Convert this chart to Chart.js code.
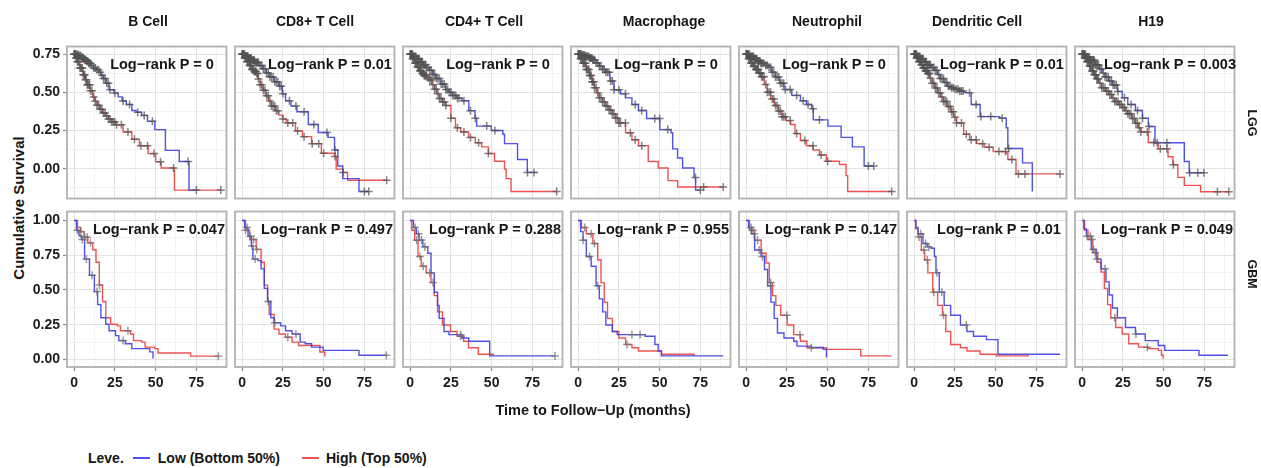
<!DOCTYPE html>
<html>
<head>
<meta charset="utf-8">
<script src="https://cdn.jsdelivr.net/npm/chart.js@4.4.1/dist/chart.umd.min.js"></script>
<style>
  html, body { margin: 0; padding: 0; background: #fff; }
  #figure {
    position: relative; width: 1261px; height: 468px; overflow: hidden;
    font-family: "Liberation Sans", Arial, sans-serif; font-weight: bold; color: #161616;
  }
  .lbl { position: absolute; white-space: nowrap; line-height: 1; }
  .legend { position: absolute; display: flex; align-items: center; font-size: 14px; line-height: 1; }
  .swatch { display: inline-block; width: 17px; height: 2px; }
</style>
</head>
<body>
<div id="figure"></div>
<script>
// ---- data ----
const cellTypes = ['B Cell', 'CD8+ T Cell', 'CD4+ T Cell', 'Macrophage', 'Neutrophil', 'Dendritic Cell', 'H19'];
const cohorts = ['LGG', 'GBM'];
const groupLabels = ['Low (Bottom 50%)', 'High (Top 50%)'];
const pLgg = ['0', '0.01', '0', '0', '0', '0.01', '0.003'];
const pGbm = ['0.047', '0.497', '0.288', '0.955', '0.147', '0.01', '0.049'];

const xTicks = [0, 25, 50, 75];
const xMinor = [12.5, 37.5, 62.5, 87.5];
const yTicksLgg = [0, 0.25, 0.5, 0.75];
const yMinorLgg = [-0.125, 0.125, 0.375, 0.625];
const yTicksGbm = [0, 0.25, 0.5, 0.75, 1];
const yMinorGbm = [0.125, 0.375, 0.625, 0.875];

// survival curves [months, survival], one per column
const lggLow = [
  [[0,0.75],[1.5,0.746],[3,0.74],[4.5,0.728],[6,0.715],[7.5,0.703],[9,0.69],[10.5,0.675],[12,0.66],[13.5,0.647],[15.4,0.631],[16.5,0.612],[18,0.59],[19.5,0.56],[21.4,0.517],[24.4,0.495],[27,0.47],[29.4,0.443],[32,0.42],[35.4,0.381],[38,0.37],[41.4,0.349],[45,0.31],[49.5,0.256],[56,0.12],[64.5,0.047],[70.5,-0.14],[75,-0.14]],
  [[0,0.75],[2,0.738],[4,0.725],[6,0.71],[8,0.695],[10.3,0.675],[12.6,0.654],[14.8,0.627],[17,0.6],[19.8,0.57],[22.6,0.54],[24.6,0.49],[26.6,0.445],[30,0.41],[33.6,0.373],[40.6,0.289],[46.7,0.237],[52.7,0.205],[56.7,0.122],[58.7,0.018],[61.7,-0.065],[71.7,-0.149],[77.7,-0.149]],
  [[0,0.75],[2,0.735],[4,0.72],[6,0.7],[8,0.68],[9.9,0.662],[11.8,0.644],[13.9,0.617],[16,0.59],[18.9,0.554],[21.8,0.518],[23.9,0.5],[26,0.48],[28.9,0.462],[31.8,0.445],[36,0.38],[39.8,0.331],[40.8,0.279],[49.8,0.25],[56.9,0.226],[57.9,0.164],[65.9,0.06],[71.9,-0.024],[77.9,-0.024]],
  [[0,0.75],[2.2,0.743],[4.5,0.735],[6.7,0.725],[9,0.714],[11,0.692],[13,0.67],[15,0.65],[17,0.631],[19.5,0.574],[22,0.517],[26,0.49],[29.1,0.464],[33,0.42],[37,0.381],[42,0.329],[50.1,0.256],[57,0.235],[58,0.13],[61,0.07],[64.1,0.005],[71.1,-0.057],[72.1,-0.14],[75,-0.14]],
  [[0,0.75],[2.5,0.735],[5,0.72],[7,0.705],[9,0.69],[11.1,0.677],[13.2,0.664],[15.6,0.632],[18,0.6],[20.6,0.559],[23.2,0.518],[28,0.48],[33.3,0.445],[37,0.42],[40.2,0.393],[41.2,0.32],[50.2,0.279],[58.3,0.205],[65.2,0.143],[72.4,0.018],[78.3,0.018]],
  [[0,0.75],[2,0.735],[4,0.72],[6,0.7],[8,0.68],[10.2,0.662],[12.4,0.644],[14.2,0.617],[16,0.59],[18.2,0.565],[20.4,0.539],[22.7,0.53],[25,0.52],[27.7,0.509],[30.4,0.498],[35,0.42],[40.5,0.341],[52.5,0.331],[56.5,0.268],[57.5,0.132],[66.5,0.038],[72.5,-0.149]],
  [[0,0.75],[2.5,0.73],[5,0.71],[7.8,0.681],[10.6,0.652],[12.3,0.626],[14,0.6],[16.3,0.574],[18.6,0.548],[21.6,0.506],[24.6,0.464],[28,0.42],[32.7,0.381],[37,0.33],[40.6,0.276],[44.7,0.17],[62.7,0.047],[65.7,-0.026],[74.7,-0.026]]
];
const lggHigh = [
  [[0,0.75],[1,0.725],[2,0.7],[3.5,0.66],[5.4,0.615],[6.7,0.582],[8,0.55],[9.7,0.51],[11.4,0.47],[12.7,0.442],[14,0.415],[15.7,0.39],[17.4,0.365],[19.2,0.345],[21,0.325],[23,0.305],[25.4,0.287],[30,0.24],[35.4,0.193],[40,0.15],[45.4,0.099],[50,0.045],[53.4,0.005],[61.5,-0.14],[90,-0.14]],
  [[0,0.75],[1.5,0.725],[3,0.7],[4.5,0.675],[6,0.65],[7.3,0.637],[8.6,0.623],[9.8,0.587],[11,0.55],[12.8,0.513],[14.6,0.477],[16.3,0.443],[18,0.41],[20.3,0.38],[22.6,0.351],[24.8,0.325],[27,0.3],[32.7,0.247],[37,0.21],[42.6,0.164],[48.6,0.101],[56.7,0.08],[57.7,-0.003],[61.7,-0.024],[64.7,-0.076],[88.7,-0.076]],
  [[0,0.75],[1.5,0.72],[3,0.69],[4.5,0.665],[6,0.64],[7.2,0.625],[8.5,0.61],[10.1,0.595],[11.8,0.581],[13.4,0.55],[15,0.52],[16.5,0.49],[18,0.46],[19.9,0.437],[21.8,0.414],[25,0.33],[27.8,0.268],[31,0.24],[35.8,0.205],[40,0.17],[43.8,0.143],[48,0.1],[51.8,0.049],[57.9,-0.003],[58.9,-0.065],[61.9,-0.149],[89.9,-0.149]],
  [[0,0.75],[1.5,0.72],[3,0.69],[5,0.65],[7,0.61],[8.5,0.57],[10,0.53],[11.5,0.497],[13,0.464],[15,0.437],[17,0.41],[19,0.385],[21,0.36],[23,0.33],[25,0.3],[29.1,0.235],[33,0.19],[37,0.151],[43,0.047],[49.1,0.005],[55.1,-0.078],[61.1,-0.12],[89.1,-0.12]],
  [[0,0.75],[1.5,0.72],[3,0.69],[4.5,0.67],[6,0.65],[7.6,0.626],[9.2,0.602],[11.1,0.551],[13,0.5],[15.1,0.457],[17.2,0.414],[19.6,0.377],[22,0.34],[24.6,0.315],[27.3,0.289],[30,0.23],[33.3,0.185],[37,0.15],[41.2,0.122],[45,0.09],[49.2,0.049],[57.3,0.028],[61.3,-0.045],[62.3,-0.149],[89.3,-0.149]],
  [[0,0.75],[1.5,0.725],[3,0.7],[4.2,0.68],[5.5,0.66],[7,0.642],[8.4,0.623],[9.7,0.592],[11,0.56],[12.7,0.529],[14.4,0.498],[16.2,0.469],[18,0.44],[20.2,0.407],[22.4,0.373],[24.2,0.337],[26,0.3],[30.4,0.226],[34,0.19],[38.4,0.164],[43,0.14],[48.5,0.112],[56.5,0.101],[57.5,0.06],[62.5,-0.034],[89.5,-0.034]],
  [[0,0.75],[1.5,0.725],[3,0.7],[4.5,0.67],[6,0.64],[7.3,0.615],[8.6,0.589],[10.3,0.56],[12,0.53],[14.3,0.507],[16.6,0.485],[18.3,0.462],[20,0.44],[22.3,0.42],[24.6,0.401],[26.3,0.38],[28,0.36],[30.4,0.328],[32.7,0.297],[34.3,0.268],[36,0.24],[40.6,0.172],[46.7,0.13],[52.7,0.078],[55.7,0.026],[58.7,-0.057],[62.7,-0.109],[72.7,-0.151],[90,-0.151]]
];
const gbmLow = [
  [[0,1],[1.4,0.93],[3,0.89],[4.4,0.863],[6.4,0.722],[9.4,0.605],[12.4,0.488],[14.4,0.394],[16.4,0.3],[19.4,0.253],[21.4,0.206],[25.4,0.171],[27.4,0.135],[31.4,0.112],[35.4,0.077],[46.4,0.054],[48.4,0.007]],
  [[0,1],[1.5,0.95],[3.6,0.887],[5.6,0.816],[6.6,0.722],[9.6,0.711],[11.6,0.652],[13.6,0.511],[15.6,0.417],[17.6,0.3],[19.6,0.264],[23.6,0.241],[26.6,0.206],[30.6,0.183],[35.6,0.124],[38.7,0.112],[42.6,0.088],[49.7,0.065],[71.7,0.03],[88.5,0.03]],
  [[0,1],[2,0.95],[3.8,0.905],[5.5,0.86],[7.8,0.811],[10.8,0.764],[12.8,0.623],[14.8,0.483],[16.8,0.389],[17.8,0.295],[20.8,0.201],[23.8,0.178],[31.8,0.154],[36,0.13],[48.8,0.025],[88.9,0.025]],
  [[0,1],[1.5,0.92],[3,0.858],[5,0.741],[8,0.671],[11,0.53],[13,0.436],[15,0.342],[17,0.248],[21,0.201],[24,0.178],[41.1,0.166],[47.1,0.107],[49.1,0.06],[51.1,0.025],[89,0.025]],
  [[0,1],[1.5,0.95],[3.2,0.905],[5.2,0.788],[9.2,0.741],[11.2,0.647],[13.2,0.53],[15.2,0.412],[17.2,0.295],[19.2,0.19],[23.2,0.154],[29.2,0.131],[31.2,0.095],[40,0.085],[47.3,0.072],[49.3,0.013]],
  [[0,1],[1,0.95],[2.4,0.905],[5.4,0.835],[8,0.81],[10.4,0.8],[12.4,0.741],[13.4,0.623],[15.4,0.483],[18.4,0.389],[22.4,0.318],[28.4,0.248],[32.4,0.201],[36.4,0.166],[44.4,0.142],[51.4,0.037],[89.5,0.037]],
  [[0,1],[1,0.94],[2.6,0.887],[5.6,0.792],[8.6,0.722],[11.6,0.652],[14.6,0.558],[16.6,0.464],[18.6,0.37],[21.6,0.3],[26.6,0.229],[32.7,0.183],[38.7,0.135],[46.7,0.1],[50.7,0.065],[71.7,0.03],[89.5,0.03]]
];
const gbmHigh = [
  [[0,1],[2,0.95],[4,0.92],[6,0.88],[8.4,0.84],[11.4,0.79],[13.4,0.7],[15.4,0.535],[17.4,0.417],[19.4,0.3],[22.4,0.253],[26.4,0.241],[28.4,0.206],[34.5,0.183],[36.4,0.135],[41.4,0.124],[43.5,0.088],[49.5,0.077],[51.5,0.046],[71.5,0.023],[88.5,0.023]],
  [[0,1],[2,0.93],[4.6,0.863],[8.6,0.792],[11.6,0.699],[13.6,0.535],[15.6,0.417],[16.6,0.323],[19.6,0.218],[22.6,0.183],[26.6,0.159],[30.6,0.124],[34.6,0.1],[47.7,0.053],[50.7,0.018]],
  [[0,1],[1,0.93],[2.8,0.858],[4.8,0.741],[6.8,0.671],[9.8,0.623],[12.8,0.553],[14.8,0.459],[16.8,0.342],[19.8,0.248],[24.8,0.201],[28.8,0.166],[32.8,0.131],[35.8,0.084],[41.8,0.037],[50.9,0.025]],
  [[0,1],[2,0.95],[5,0.905],[9,0.835],[12,0.718],[14,0.553],[16,0.412],[18,0.295],[21,0.201],[25,0.154],[29.1,0.107],[33,0.084],[37,0.06],[51.1,0.037],[71.1,0.025]],
  [[0,1],[2,0.93],[5.2,0.858],[9.2,0.764],[12.2,0.694],[14.2,0.553],[16.2,0.459],[18.2,0.389],[21.2,0.318],[25.2,0.248],[29.2,0.178],[33.3,0.131],[37.3,0.084],[49.3,0.072],[70.3,0.025],[89.3,0.025]],
  [[0,1],[1,0.94],[2.4,0.882],[4.4,0.788],[6.4,0.718],[8.4,0.623],[11.4,0.483],[14.4,0.389],[17.4,0.318],[19.4,0.201],[22.4,0.107],[28.4,0.084],[32.4,0.06],[40.5,0.037],[50.4,0.025],[70.5,0.025]],
  [[0,1],[1.5,0.93],[3.6,0.863],[6.6,0.769],[9.6,0.699],[11.6,0.628],[13.6,0.511],[15.6,0.394],[17.6,0.3],[20.6,0.229],[24.6,0.183],[28.6,0.112],[34.6,0.088],[40.6,0.077],[46.7,0.065],[48.7,0.03],[49.7,0.007]]
];

// censoring times (months), drawn as "+" on their curve
const lggLowCensor = [
  [0,0.5,1,1.5,2,2.5,3,3.5,4,4.5,5,5.5,6,6.5,7,7.5,8,8.5,9,9.5,10,11,12,13,14,15,16,17,18,19,20,21,22,25,30,34,39,43,48,70,75],
  [0,0.5,1,1.5,2,2.5,3,3.5,4,4.5,5,5.5,6,6.5,7,7.5,8,8.5,9,9.5,10,11,12,13,14,15,16,17,18,19,20,21,22,23,24,25,29,33,38,44,52,57,75,77.7],
  [0,0.5,1,1.5,2,2.5,3,3.5,4,4.5,5,5.5,6,6.5,7,7.5,8,8.5,9,9.5,10,11,12,13,14,15,16,17,18,19,20,21,22,23,24,25,26,27,28,29,30,33,37,40,47,52,72,76],
  [0,0.5,1,1.5,2,2.5,3,3.5,4,4.5,5,5.5,6,6.5,7,7.5,8,8.5,9,9.5,10,11,12,13,14,15,16,17,18,19,20,21,22,25,29,35,39,47,50,55,72,75],
  [0,0.5,1,1.5,2,2.5,3,3.5,4,4.5,5,5.5,6,6.5,7,7.5,8,8.5,9,9.5,10,11,12,13,14,15,16,17,18,19,20,21,22,23,24,27,31,35,38,41,45,75,78.3],
  [0,0.5,1,1.5,2,2.5,3,3.5,4,4.5,5,5.5,6,6.5,7,7.5,8,8.5,9,9.5,10,11,12,13,14,15,16,17,18,19,20,21,22,23,24,25,26,27,28,29,30,34,38,41,47,54,58],
  [0,0.5,1,1.5,2,2.5,3,3.5,4,4.5,5,5.5,6,6.5,7,7.5,8,8.5,9,9.5,10,11,12,13,14,15,16,17,18,19,20,21,22,26,30,34,37,41,46,52,66,71,74.7]
];
const lggHighCensor = [
  [0,0.5,1,1.5,2,2.5,3,3.5,4,4.5,5,5.5,6,6.5,7,7.5,8,8.5,9,9.5,10,11,12,13,14,15,16,17,18,19,20,21,22,23,24,25,26,29,33,37,41,45,49,53,61,90],
  [0,0.5,1,1.5,2,2.5,3,3.5,4,4.5,5,5.5,6,6.5,7,7.5,8,8.5,9,9.5,10,11,12,13,14,15,16,17,18,19,20,21,22,25,28,31,34,38,43,47,50,57,62,88.7],
  [0,0.5,1,1.5,2,2.5,3,3.5,4,4.5,5,5.5,6,6.5,7,7.5,8,8.5,9,9.5,10,11,12,13,14,15,16,17,18,19,20,21,22,25,29,33,37,42,48,89.9],
  [0,0.5,1,1.5,2,2.5,3,3.5,4,4.5,5,5.5,6,6.5,7,7.5,8,8.5,9,9.5,10,11,12,13,14,15,16,17,18,19,20,21,22,23,24,25,26,29,32,35,39,77,89],
  [0,0.5,1,1.5,2,2.5,3,3.5,4,4.5,5,5.5,6,6.5,7,7.5,8,8.5,9,9.5,10,11,12,13,14,15,16,17,18,19,20,21,22,23,24,27,31,36,41,46,50,89.3],
  [0,0.5,1,1.5,2,2.5,3,3.5,4,4.5,5,5.5,6,6.5,7,7.5,8,8.5,9,9.5,10,11,12,13,14,15,16,17,18,19,20,21,22,23,24,25,26,29,32,35,38,42,46,52,56,60,64,68,89.5],
  [0,0.5,1,1.5,2,2.5,3,3.5,4,4.5,5,5.5,6,6.5,7,7.5,8,8.5,9,9.5,10,11,12,13,14,15,16,17,18,19,20,21,22,23,24,25,26,27,28,29,30,31,32,33,34,35,36,40,44,48,52,56,83,90]
];
const gbmLowCensor = [
  [2,5,7.5,11,14,30],
  [3,5,6,8,20,33,88.5],
  [3,5,7,9,31,88.9],
  [3,7,12,33,38],
  [3,5,8,10,15],
  [4,7,9,14,17,32],
  [3,5,7,9,14,33]
];
const gbmHighCensor = [
  [4,6.5,8,10,15.5,33,88.5],
  [2,7,9,16,28],
  [4,6,8,12,14,31],
  [4,8,10,30],
  [4,7,15,25,33,40],
  [3,6,8,12,18],
  [6,8,20,40]
];

// ---- layout ----
const PANEL_W = 163, PANEL_H = 159;
const COL_X0 = 67, COL_STEP = 168;
const ROW_Y = [43, 208];
const X_RANGE = [-4.4, 93.5];
const Y_RANGE = [[-0.195, 0.8], [-0.055, 1.065]];
const AXIS_W = 40, AXIS_H = 30, PAD = 2;
const TITLE_X = [148, 315, 484, 664, 827, 977, 1151];

const BLUE = 'rgba(62,62,228,0.9)';
const RED = 'rgba(236,64,64,0.9)';
const GRAY_LGG = 'rgba(82,82,82,0.72)';
const GRAY_GBM = 'rgba(110,110,110,0.7)';
const FONT = { family: "'Liberation Sans', Arial, sans-serif", size: 14, weight: 'bold' };

const fig = document.getElementById('figure');

function addLabel(text, x, y, size, rotate) {
  const d = document.createElement('div');
  d.className = 'lbl';
  d.textContent = text;
  d.style.left = x + 'px';
  d.style.top = y + 'px';
  d.style.fontSize = size + 'px';
  d.style.transform = 'translate(-50%,-50%)' + (rotate ? ' rotate(' + rotate + 'deg)' : '');
  fig.appendChild(d);
}

// value of a step curve at time t
function survAt(curve, t) {
  let s = curve[0][1];
  for (const [x, y] of curve) {
    if (x <= t) s = y; else break;
  }
  return s;
}

const frame = {
  id: 'frame',
  afterDatasetsDraw(chart) {
    const { ctx, chartArea: a } = chart;
    ctx.save();
    ctx.strokeStyle = '#b7b7b7';
    ctx.lineWidth = 2;
    ctx.strokeRect(a.left, a.top, a.right - a.left, a.bottom - a.top);
    ctx.restore();
  }
};

function curveSet(curve, color) {
  return {
    data: curve.map(([x, y]) => ({ x, y })),
    stepped: true,
    borderColor: color,
    borderWidth: 1.4,
    pointRadius: 0,
    fill: false,
    order: 1
  };
}

function censorSet(curve, times, gray) {
  return {
    data: times.map(t => ({ x: t, y: survAt(curve, t) })),
    showLine: false,
    pointStyle: 'cross',
    pointRadius: 4,
    pointBorderWidth: 1.5,
    pointBorderColor: gray,
    pointBackgroundColor: gray,
    order: 0
  };
}

function buildPanel(row, col) {
  const L = COL_X0 + COL_STEP * col, T = ROW_Y[row];
  const showY = col === 0, showX = row === 1;
  const low = row ? gbmLow[col] : lggLow[col];
  const high = row ? gbmHigh[col] : lggHigh[col];
  const lowC = row ? gbmLowCensor[col] : lggLowCensor[col];
  const highC = row ? gbmHighCensor[col] : lggHighCensor[col];
  const yMajor = row ? yTicksGbm : yTicksLgg;
  const yMinor = row ? yMinorGbm : yMinorLgg;
  const gray = row ? GRAY_GBM : GRAY_LGG;

  const canvas = document.createElement('canvas');
  const w = AXIS_W + PANEL_W + PAD;
  const h = PAD + PANEL_H + (showX ? AXIS_H : PAD);
  canvas.width = w;
  canvas.height = h;
  canvas.style.cssText = 'position:absolute;left:' + (L - AXIS_W) + 'px;top:' + (T - PAD) + 'px;width:' + w + 'px;height:' + h + 'px';
  fig.appendChild(canvas);

  const gridFor = (major, drawTicks) => ({
    color: c => major.includes(c.tick && c.tick.value) ? '#e2e2e2' : '#efefef',
    lineWidth: c => major.includes(c.tick && c.tick.value) ? 1 : 0.8,
    drawTicks: drawTicks,
    tickLength: 4,
    tickWidth: 1.2,
    tickColor: c => major.includes(c.tick && c.tick.value) ? '#8c8c8c' : 'rgba(0,0,0,0)'
  });

  new Chart(canvas, {
    type: 'line',
    data: {
      datasets: [
        censorSet(low, lowC, gray),
        censorSet(high, highC, gray),
        curveSet(low, BLUE),
        curveSet(high, RED)
      ]
    },
    options: {
      responsive: false,
      animation: false,
      layout: { padding: { top: PAD, right: PAD, left: 0, bottom: showX ? 0 : PAD } },
      plugins: { legend: { display: false }, tooltip: { enabled: false } },
      scales: {
        x: {
          type: 'linear',
          min: X_RANGE[0],
          max: X_RANGE[1],
          afterBuildTicks: s => { s.ticks = xTicks.concat(xMinor).sort((a, b) => a - b).map(v => ({ value: v })); },
          afterFit: s => { s.height = showX ? AXIS_H : 0; s.paddingLeft = 0; s.paddingRight = 0; },
          ticks: {
            display: showX, autoSkip: false, maxRotation: 0, padding: 4,
            font: FONT, color: '#1c1c1c',
            callback: v => xTicks.includes(v) ? String(v) : ''
          },
          grid: gridFor(xTicks, showX),
          border: { display: false }
        },
        y: {
          type: 'linear',
          min: Y_RANGE[row][0],
          max: Y_RANGE[row][1],
          afterBuildTicks: s => { s.ticks = yMajor.concat(yMinor).sort((a, b) => a - b).map(v => ({ value: v })); },
          afterFit: s => { s.width = AXIS_W; s.paddingTop = 0; s.paddingBottom = 0; },
          ticks: {
            display: showY, autoSkip: false, padding: 3,
            font: FONT, color: '#1c1c1c',
            callback: v => yMajor.includes(v) ? v.toFixed(2) : ''
          },
          grid: gridFor(yMajor, showY),
          border: { display: false }
        }
      }
    },
    plugins: [frame]
  });

  const p = row ? pGbm[col] : pLgg[col];
  addLabel('Log\u2212rank P = ' + p, L + (row ? 92 : 95), T + 21, 14.5);
}

for (let r = 0; r < cohorts.length; r++) {
  for (let c = 0; c < cellTypes.length; c++) buildPanel(r, c);
}

// column titles, strip labels and axis titles
cellTypes.forEach((name, i) => addLabel(name, TITLE_X[i], 21, 14));
addLabel(cohorts[0], 1252, 123, 12.5, 90);
addLabel(cohorts[1], 1252, 274, 12.5, 90);
addLabel('Cumulative Survival', 18, 208, 15, -90);
addLabel('Time to Follow\u2212Up (months)', 593, 410, 14.5);

// legend
const legend = document.createElement('div');
legend.className = 'legend';
legend.style.left = '88px';
legend.style.top = '451px';
legend.innerHTML =
  '<span style="margin-right:9px">Leve.</span>' +
  '<span class="swatch" style="background:' + BLUE + ';margin-right:8px"></span>' +
  '<span style="margin-right:22px">' + groupLabels[0] + '</span>' +
  '<span class="swatch" style="background:' + RED + ';margin-right:7px"></span>' +
  '<span>' + groupLabels[1] + '</span>';
fig.appendChild(legend);
</script>
</body>
</html>
